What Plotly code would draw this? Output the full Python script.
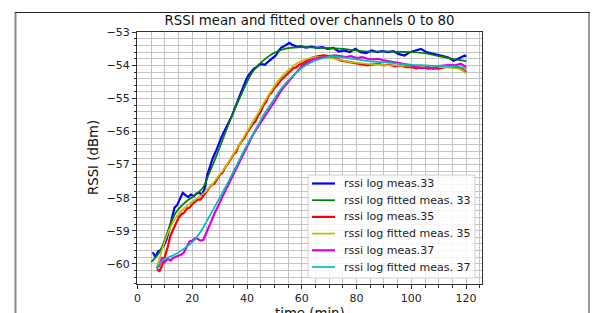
import plotly.graph_objects as go

# ---------------- data ----------------
t_meas33 = [5.5, 6.5, 7.5, 8.5, 9.5, 10.5, 11.5, 12.5, 13.5, 14.5, 15.5, 16.5, 17.5, 18.5, 19.5,
            20.5, 21.5, 22.5, 23.5, 24.5, 25.5, 26.5, 27.5, 28.5, 29.5, 30.5, 31.5, 32.5, 33.5,
            34.5, 35.5, 36.5, 37.5, 38.5, 39.5, 40.5, 41.5, 42.5, 43.5, 44.5, 45.5, 46.5, 47.5,
            48.5, 49.5, 50.5, 51.5, 52.5, 53.5, 54.5, 55.5, 56.5, 57.5, 58.5, 59.5,
            61.5, 63.5, 65.5, 67.5, 69.5, 71.5, 73.5, 75.5, 77.5, 79.5, 81.5, 83.5, 85.5, 87.5,
            89.5, 91.5, 93.5, 95.5, 97.5, 99.5, 101.5, 103.5, 105.5, 107.5, 109.5, 111.5, 113.5,
            115.5, 117.5, 119.5, 120]
rssi_meas33 = [-59.65, -59.78, -59.62, -59.58, -59.45, -59.28, -58.98, -58.6, -58.3, -58.22, -58.05,
               -57.85, -57.92, -57.98, -57.9, -57.96, -57.88, -57.84, -57.92, -57.72, -57.3, -57.02,
               -56.8, -56.62, -56.38, -56.2, -56.02, -55.86, -55.68, -55.52, -55.3, -55.08, -54.88,
               -54.66, -54.46, -54.3, -54.2, -54.1, -54.05, -53.98, -53.96, -53.98, -53.9, -53.84,
               -53.76, -53.7, -53.56, -53.46, -53.42, -53.38, -53.32, -53.38, -53.42, -53.44, -53.42,
               -53.46, -53.43, -53.47, -53.45, -53.5, -53.47, -53.58, -53.55, -53.6, -53.5, -53.6,
               -53.63, -53.55, -53.6, -53.57, -53.6, -53.57, -53.66, -53.7, -53.6, -53.55, -53.5,
               -53.6, -53.63, -53.68, -53.72, -53.76, -53.86, -53.78, -53.7, -53.74]

t_fit33 = [5, 8, 10, 12, 14, 16, 18, 20, 22, 24, 26, 28, 30, 32, 34, 36, 38, 40, 42, 44, 46, 48,
           50, 52, 55, 60, 65, 70, 75, 80, 85, 90, 95, 100, 105, 110, 115, 120]
rssi_fit33 = [-59.95, -59.65, -59.25, -58.8, -58.45, -58.25, -58.1, -57.98, -57.85, -57.68, -57.3,
              -56.9, -56.48, -56.05, -55.62, -55.22, -54.86, -54.5, -54.2, -54.0, -53.85, -53.72,
              -53.62, -53.55, -53.48, -53.45, -53.46, -53.48, -53.5, -53.55, -53.58, -53.58,
              -53.59, -53.6, -53.63, -53.72, -53.8, -53.87]

t_meas35 = [7, 8, 9, 10, 11, 12, 13, 14, 15, 16, 17, 18, 19, 20, 21, 22, 23, 24, 25, 26, 27, 28,
            29, 30, 31, 32, 33, 34, 35, 36, 37, 38, 39, 40, 41, 42, 43, 44, 45, 46, 47, 48, 49,
            50, 51, 52, 53, 54, 55, 56, 57, 58, 59, 60,
            62, 64, 66, 68, 70, 72, 74, 76, 78, 80, 82, 84, 86, 88, 90, 92, 94, 96, 98, 100,
            102, 104, 106, 108, 110, 112, 114, 116, 118, 120]
rssi_meas35 = [-60.18, -60.22, -60.05, -59.8, -59.5, -59.15, -58.95, -58.75, -58.6, -58.5, -58.45,
               -58.33, -58.3, -58.2, -58.12, -58.05, -58.06, -57.95, -57.85, -57.72, -57.62, -57.58,
               -57.45, -57.32, -57.25, -57.08, -56.98, -56.82, -56.7, -56.62, -56.42, -56.3, -56.2,
               -56.02, -55.92, -55.78, -55.7, -55.52, -55.4, -55.2, -55.1, -54.9, -54.82, -54.68,
               -54.6, -54.48, -54.4, -54.35, -54.24, -54.18, -54.08, -54.06, -53.98, -53.95,
               -53.85, -53.76, -53.72, -53.7, -53.72, -53.75, -53.85, -53.88, -53.9, -53.93,
               -53.96, -54.0, -53.97, -53.95, -54.0, -53.98, -54.03, -54.0, -54.05, -54.05,
               -54.09, -54.05, -54.1, -54.08, -54.1, -54.05, -54.02, -54.05, -54.08, -54.2]

t_fit35 = [7, 8, 9, 10, 12, 14, 16, 18, 20, 22, 24, 26, 28, 30, 32, 34, 36, 38, 40, 42, 44, 46,
           48, 50, 52, 54, 56, 58, 60, 62, 65, 68, 72, 76, 80, 85, 90, 95, 100, 105, 110, 115,
           118, 120]
rssi_fit35 = [-60.1, -59.85, -59.55, -59.3, -58.9, -58.6, -58.4, -58.25, -58.12, -58.0, -57.88,
              -57.72, -57.52, -57.3, -57.08, -56.82, -56.55, -56.28, -56.0, -55.72, -55.45, -55.15,
              -54.88, -54.62, -54.4, -54.22, -54.08, -53.95, -53.87, -53.8, -53.75, -53.76, -53.8,
              -53.87, -53.92, -53.96, -53.99, -54.0, -54.02, -54.03, -54.05, -54.08, -54.12, -54.25]

t_meas37 = t_meas35
rssi_meas37 = [-60.15, -60.05, -59.8, -59.95, -59.85, -59.9, -59.82, -59.78, -59.75, -59.72, -59.65,
               -59.5, -59.32, -59.3, -59.22, -59.25, -59.3, -59.28, -59.1, -58.9, -58.7, -58.5,
               -58.3, -58.15, -57.97, -57.8, -57.62, -57.45, -57.28, -57.1, -56.92, -56.75, -56.58,
               -56.42, -56.27, -56.12, -55.98, -55.85, -55.7, -55.58, -55.45, -55.35, -55.22,
               -55.1, -54.95, -54.82, -54.7, -54.6, -54.5, -54.4, -54.3, -54.2, -54.1, -54.02,
               -53.92, -53.82, -53.78, -53.75, -53.72, -53.7, -53.72, -53.75, -53.72, -53.78,
               -53.75, -53.8, -53.82, -53.8, -53.85, -53.88, -53.9, -53.95, -53.98, -54.0, -54.05,
               -54.08, -54.05, -54.1, -54.02, -54.0, -53.98, -54.0, -53.95, -54.05]

t_fit37 = [7, 8, 9, 10, 12, 14, 16, 18, 20, 22, 24, 26, 28, 30, 32, 34, 36, 38, 40, 42, 44, 46,
           48, 50, 52, 54, 56, 58, 60, 62, 65, 68, 71, 75, 80, 85, 90, 95, 100, 105, 110, 115,
           118, 120]
rssi_fit37 = [-60.15, -60.0, -59.9, -59.85, -59.78, -59.7, -59.6, -59.48, -59.35, -59.15, -58.9,
              -58.6, -58.3, -58.0, -57.7, -57.38, -57.05, -56.72, -56.4, -56.1, -55.8, -55.5,
              -55.25, -55.0, -54.75, -54.55, -54.38, -54.22, -54.08, -53.97, -53.85, -53.78,
              -53.73, -53.76, -53.82, -53.88, -53.9, -53.95, -53.98, -54.0, -54.02, -54.03,
              -54.05, -54.12]

series = [
    ("rssi log meas.33", t_meas33, rssi_meas33, "#0000ff", 2.2, "linear"),
    ("rssi log fitted meas. 33", t_fit33, rssi_fit33, "#008000", 1.7, "spline"),
    ("rssi log meas.35", t_meas35, rssi_meas35, "#ff0000", 2.2, "linear"),
    ("rssi log fitted meas. 35", t_fit35, rssi_fit35, "#bfbf00", 1.7, "spline"),
    ("rssi log meas.37", t_meas37, rssi_meas37, "#dd00dd", 2.2, "linear"),
    ("rssi log fitted meas. 37", t_fit37, rssi_fit37, "#00bfbf", 1.7, "spline"),
]

x_ticks = [0, 20, 40, 60, 80, 100, 120]
y_ticks = [-60, -59, -58, -57, -56, -55, -54, -53]

# ---------------- figure ----------------
W, H = 598, 313
L, R, T, B = 137, 116, 32, 29
PW, PH = W - L - R, H - T - B


def px_x(p):
    return (p - L) / PW


def px_y(q):
    return (H - B - q) / PH


fig = go.Figure()
for name, tx, vy, col, lw, shape in series:
    fig.add_trace(go.Scatter(x=tx, y=vy, mode="lines", name=name, showlegend=False,
                             line=dict(color=col, width=lw, shape=shape)))

font = "DejaVu Sans, Liberation Sans, sans-serif"
grid_col = "#c4c4c4"

fig.update_layout(
    width=W, height=H,
    margin=dict(l=L, r=R, t=T, b=B, pad=0),
    paper_bgcolor="white", plot_bgcolor="white",
    font=dict(family=font, size=11, color="#222222"),
    title=dict(text="RSSI mean and fitted over channels 0 to 80",
               x=309.5 / W, xanchor="center",
               y=1 - 20 / H, yanchor="middle",
               font=dict(size=13.3, color="#111111")),
    showlegend=False,
    xaxis=dict(range=[-0.2, 125.8], tickvals=x_ticks, ticks="outside", ticklen=4,
               tickcolor="#333333", showline=True, linecolor="#333333", linewidth=1,
               mirror=True, showgrid=True, gridcolor=grid_col, gridwidth=1.2,
               zeroline=False, automargin=False,
               minor=dict(dtick=5, tick0=0, ticks="outside", ticklen=3, tickcolor="#333333",
                          showgrid=True, gridcolor=grid_col, gridwidth=1.2)),
    yaxis=dict(range=[-60.61, -52.99], tickvals=y_ticks, ticks="outside", ticklen=4,
               tickcolor="#333333", showline=True, linecolor="#333333", linewidth=1,
               mirror=True, showgrid=True, gridcolor=grid_col, gridwidth=1.2,
               zeroline=False, automargin=False,
               minor=dict(dtick=0.2, tick0=-53, ticks="outside", ticklen=2, tickcolor="#333333",
                          showgrid=True, gridcolor=grid_col, gridwidth=1.2)),
)

fig.add_annotation(text="RSSI (dBm)", xref="paper", yref="paper",
                   x=px_x(93), y=px_y(158), textangle=-90, showarrow=False,
                   xanchor="center", yanchor="middle", font=dict(size=13.3, color="#111111"))
fig.add_annotation(text="time (min)", xref="paper", yref="paper",
                   x=px_x(309.5), y=px_y(304), showarrow=False,
                   xanchor="center", yanchor="top", font=dict(size=13.3, color="#111111"))

# legend (drawn as box + sample lines + labels, matplotlib style)
lg_x0, lg_x1, lg_y0, lg_y1 = 308, 475, 175, 278
fig.add_shape(type="rect", xref="paper", yref="paper", layer="above",
              x0=px_x(lg_x0), x1=px_x(lg_x1), y0=px_y(lg_y1), y1=px_y(lg_y0),
              fillcolor="rgba(255,255,255,0.85)", line=dict(color="#d0d0d0", width=1))
for i, (name, tx, vy, col, lw, shape) in enumerate(series):
    row_y = 183.5 + 16.7 * i
    fig.add_shape(type="line", xref="paper", yref="paper", layer="above",
                  x0=px_x(312), x1=px_x(335), y0=px_y(row_y), y1=px_y(row_y),
                  line=dict(color=col, width=lw))
    fig.add_annotation(text=name, xref="paper", yref="paper", x=px_x(342), y=px_y(row_y),
                       xanchor="left", yanchor="middle", showarrow=False,
                       font=dict(size=11, color="#222222"))

# outer frame of the screenshot
fig.add_shape(type="line", xref="paper", yref="paper", x0=px_x(15.5), x1=px_x(15.5),
              y0=px_y(12), y1=px_y(340), line=dict(color="#888888", width=2))
fig.add_shape(type="line", xref="paper", yref="paper", x0=px_x(15), x1=px_x(590),
              y0=px_y(12.5), y1=px_y(12.5), line=dict(color="#222222", width=1.2))
fig.add_shape(type="line", xref="paper", yref="paper", x0=px_x(589), x1=px_x(589),
              y0=px_y(12), y1=px_y(340), line=dict(color="#333333", width=1))

fig.write_html("out.html", config={"displayModeBar": False},
               post_script="document.body.style.margin='0px';")
